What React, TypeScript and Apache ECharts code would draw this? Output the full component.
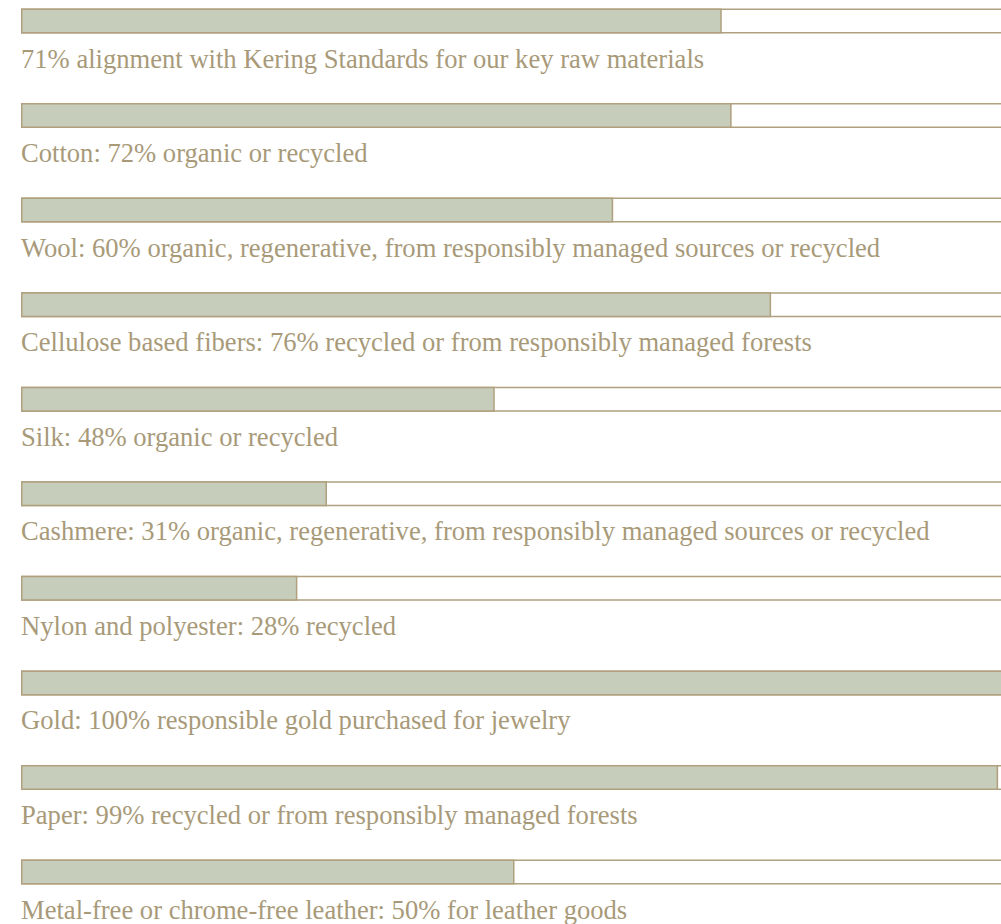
import React, { useEffect, useRef } from "react";
import * as echarts from "echarts";

const categories = [
  "Key raw materials",
  "Cotton",
  "Wool",
  "Cellulose based fibers",
  "Silk",
  "Cashmere",
  "Nylon and polyester",
  "Gold",
  "Paper",
  "Leather",
];

const values = [71, 72, 60, 76, 48, 31, 28, 100, 99, 50];

const labels = [
  "71% alignment with Kering Standards for our key raw materials",
  "Cotton: 72% organic or recycled",
  "Wool: 60% organic, regenerative, from responsibly managed sources or recycled",
  "Cellulose based fibers: 76% recycled or from responsibly managed forests",
  "Silk: 48% organic or recycled",
  "Cashmere: 31% organic, regenerative, from responsibly managed sources or recycled",
  "Nylon and polyester: 28% recycled",
  "Gold: 100% responsible gold purchased for jewelry",
  "Paper: 99% recycled or from responsibly managed forests",
  "Metal-free or chrome-free leather: 50% for leather goods",
];

const fullScale = categories.map(() => 100);

const TAN = "#b0a07e";
const TEXT = "#a89a79";
const GREEN = "#c6cdbb";

export default function App() {
  const ref = useRef<HTMLDivElement>(null);
  useEffect(() => {
    if (!ref.current) return;
    const chart = echarts.init(ref.current, null, { renderer: "svg" });
    chart.setOption({
      animation: false,
      grid: { left: 21, top: 21, width: 987, height: 851, containLabel: false },
      xAxis: { type: "value", min: 0, max: 100, show: false },
      yAxis: {
        type: "category",
        data: categories,
        inverse: true,
        boundaryGap: false,
        show: false,
      },
      series: [
        {
          type: "bar",
          data: fullScale,
          barWidth: 25,
          barGap: "-100%",
          silent: true,
          itemStyle: { color: "#ffffff", borderColor: TAN, borderWidth: 1.5 },
          label: {
            show: true,
            position: [0, 50],
            align: "left",
            verticalAlign: "middle",
            color: TEXT,
            fontFamily: "'Liberation Serif', 'Times New Roman', serif",
            fontSize: 26.6,
            formatter: (p: any) => labels[p.dataIndex],
          },
          z: 1,
        },
        {
          type: "bar",
          data: values,
          barWidth: 25,
          barGap: "-100%",
          silent: true,
          itemStyle: { color: GREEN, borderColor: TAN, borderWidth: 1.5 },
          z: 2,
        },
      ],
    });
    return () => chart.dispose();
  }, []);
  return (
    <div style={{ position: "absolute", left: 0, top: 0, width: 1001, height: 924, overflow: "hidden" }}>
      <div ref={ref} style={{ width: 1020, height: 924 }} />
    </div>
  );
}
